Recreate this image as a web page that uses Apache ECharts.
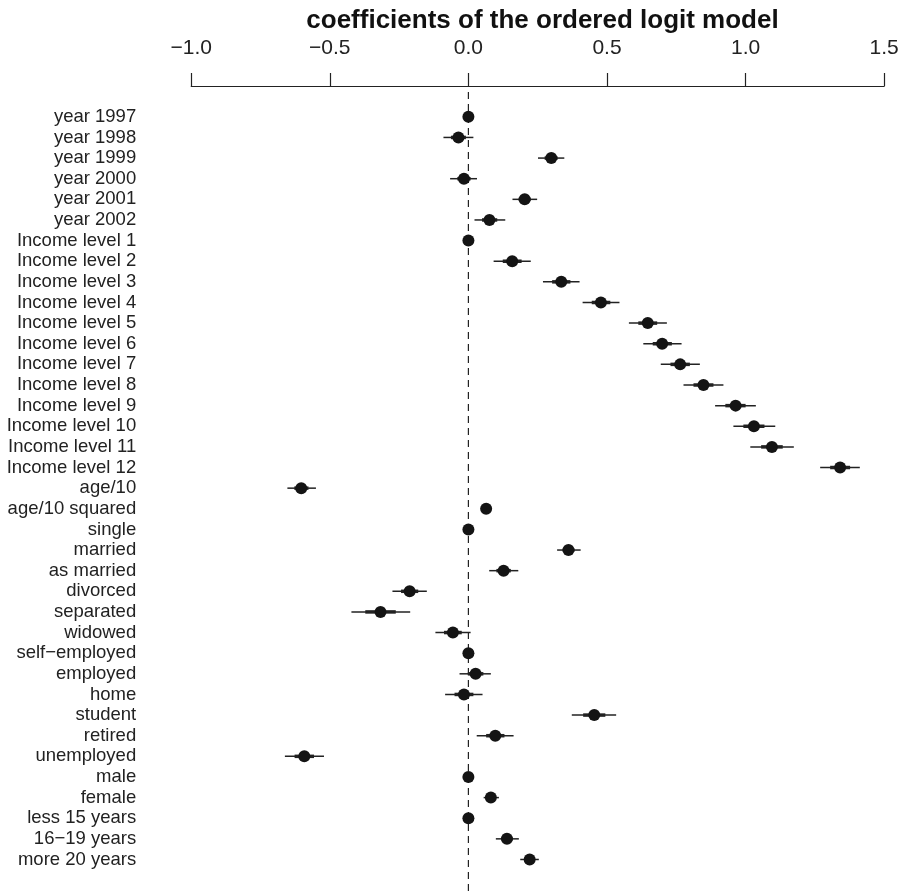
<!DOCTYPE html>
<html>
<head>
<meta charset="utf-8">
<script src="https://cdn.jsdelivr.net/npm/echarts@6/dist/echarts.min.js"></script>
<style>html,body{margin:0;padding:0;background:#fff}#c{width:906px;height:891px}</style>
</head>
<body>
<div id="c"></div>
<script>
const categories = ["year 1997","year 1998","year 1999","year 2000","year 2001","year 2002",
  "Income level 1","Income level 2","Income level 3","Income level 4","Income level 5","Income level 6",
  "Income level 7","Income level 8","Income level 9","Income level 10","Income level 11","Income level 12",
  "age/10","age/10 squared","single","married","as married","divorced","separated","widowed",
  "self\u2212employed","employed","home","student","retired","unemployed","male","female",
  "less 15 years","16\u221219 years","more 20 years"];
const estimates = [0,-0.036,0.299,-0.016,0.203,0.076,
  0,0.158,0.335,0.478,0.647,0.699,0.764,0.848,0.964,1.030,1.095,1.341,
  -0.603,0.064,0,0.361,0.127,-0.212,-0.317,-0.056,
  0,0.026,-0.016,0.454,0.097,-0.592,0,0.081,0,0.139,0.221];
const outerLow = [null,-0.090,0.251,-0.066,0.159,0.022,
  null,0.091,0.269,0.412,0.579,0.631,0.694,0.776,0.890,0.956,1.017,1.269,
  -0.653,null,null,0.320,0.075,-0.274,-0.422,-0.119,
  null,-0.032,-0.084,0.373,0.030,-0.662,null,0.055,null,0.099,0.187];
const outerHigh = [null,0.018,0.346,0.031,0.248,0.133,
  null,0.225,0.401,0.545,0.716,0.769,0.835,0.920,1.037,1.107,1.174,1.412,
  -0.550,null,null,0.405,0.180,-0.150,-0.210,0.008,
  null,0.081,0.051,0.533,0.163,-0.521,null,0.110,null,0.182,0.254];
const innerLow = [null,-0.063,0.275,-0.040,0.181,0.049,
  null,0.124,0.302,0.445,0.613,0.665,0.729,0.812,0.927,0.992,1.056,1.305,
  -0.628,null,null,0.340,0.101,-0.243,-0.372,-0.088,
  null,-0.002,-0.050,0.414,0.064,-0.627,null,0.068,null,0.119,0.204];
const innerHigh = [null,-0.009,0.322,0.008,0.225,0.104,
  null,0.192,0.368,0.512,0.681,0.734,0.799,0.884,1.000,1.068,1.134,1.377,
  -0.577,null,null,0.383,0.153,-0.181,-0.262,-0.024,
  null,0.054,0.018,0.494,0.130,-0.557,null,0.095,null,0.160,0.238];
const xTicks = [-1.0,-0.5,0.0,0.5,1.0,1.5];

const FONT = "'Liberation Sans', Arial, Helvetica, sans-serif";
const barData = categories.map((c,i)=>[i, outerLow[i], outerHigh[i], innerLow[i], innerHigh[i]]);
const dotData = categories.map((c,i)=>[estimates[i], i]);

const chart = echarts.init(document.getElementById('c'), null, {renderer:'canvas'});
chart.setOption({
  animation:false,
  backgroundColor:'#ffffff',
  title:{
    text:'coefficients of the ordered logit model',
    left:537.5, top:3, textAlign:'center',
    textStyle:{fontFamily:FONT, fontWeight:'bold', fontSize:26, color:'#111'}
  },
  grid:[
    {left:191.2, right:21.8, top:106.5, bottom:21.2, containLabel:false},
    {left:191.2, right:21.8, top:87, bottom:0, containLabel:false}
  ],
  xAxis:[
    {gridIndex:0, type:'value', position:'top', offset:20.5, min:-1, max:1.5, interval:0.5,
      axisLine:{show:true, lineStyle:{color:'#222', width:1.2}},
      axisTick:{show:true, length:13, lineStyle:{color:'#222', width:1.2}},
      axisLabel:{show:true, margin:27, fontFamily:FONT, fontSize:21, color:'#222',
        formatter:v=>{ const t = xTicks.find(x=>Math.abs(x-v)<1e-9); const s=(t!==undefined?t:v).toFixed(1); return s.replace('-','\u2212'); }},
      splitLine:{show:false}},
    {gridIndex:1, type:'value', min:-1, max:1.5, show:false}
  ],
  yAxis:[
    {gridIndex:0, type:'category', data:categories, inverse:true,
      axisLine:{show:false}, axisTick:{show:false}, splitLine:{show:false},
      axisLabel:{show:true, interval:0, margin:55, fontFamily:FONT, fontSize:18.5, color:'#222', align:'right'}},
    {gridIndex:1, type:'value', min:0, max:1, show:false}
  ],
  series:[
    {type:'line', xAxisIndex:1, yAxisIndex:1, data:[[0,0],[0,1]], symbol:'none', silent:true,
      lineStyle:{color:'#222', width:1.2, type:[7,5]}, z:1},
    {type:'custom', xAxisIndex:0, yAxisIndex:0, data:barData, z:2, silent:true,
      encode:{y:0, x:[1,2,3,4]},
      renderItem:function(params, api){
        const i = api.value(0);
        const oL = api.value(1), oH = api.value(2), iL = api.value(3), iH = api.value(4);
        const children = [];
        if (oL !== null && !isNaN(oL) && oH !== null && !isNaN(oH)) {
          const a = api.coord([oL, i]), b = api.coord([oH, i]);
          children.push({type:'line', shape:{x1:a[0], y1:a[1], x2:b[0], y2:b[1]}, style:{stroke:'#222', lineWidth:1.5}});
        }
        if (iL !== null && !isNaN(iL) && iH !== null && !isNaN(iH)) {
          const a = api.coord([iL, i]), b = api.coord([iH, i]);
          children.push({type:'line', shape:{x1:a[0], y1:a[1], x2:b[0], y2:b[1]}, style:{stroke:'#222', lineWidth:3.5}});
        }
        return {type:'group', children:children};
      }},
    {type:'scatter', xAxisIndex:0, yAxisIndex:0, data:dotData, symbol:'circle', symbolSize:12, z:3, silent:true,
      itemStyle:{color:'#141414', opacity:1}}
  ]
});
</script>
</body>
</html>
